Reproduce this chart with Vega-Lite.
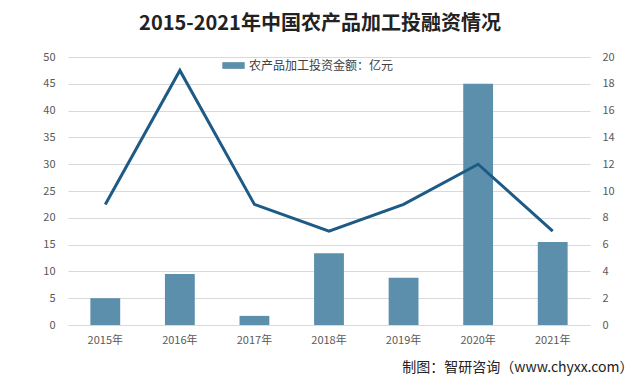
{
  "$schema": "https://vega.github.io/schema/vega-lite/v6.json",
  "autosize": "none",
  "width": 522,
  "height": 268,
  "padding": {"left": 68, "top": 57, "right": 50, "bottom": 59},
  "background": "white",
  "config": {
    "font": "Noto Sans CJK SC",
    "view": {"stroke": null},
    "axis": {"labelColor": "#595959", "labelFontSize": 11, "gridColor": "#d9d9d9", "domain": false, "ticks": false, "labelOverlap": false}
  },
  "title": {
    "text": "2015-2021年中国农产品加工投融资情况",
    "fontSize": 20,
    "fontWeight": "bold",
    "color": "#222222",
    "anchor": "middle",
    "offset": 17,
    "dx": -9
  },
  "data": {
    "values": [
      {"year": "2015年", "amount": 5.0, "count": 9},
      {"year": "2016年", "amount": 9.5, "count": 19},
      {"year": "2017年", "amount": 1.7, "count": 9},
      {"year": "2018年", "amount": 13.4, "count": 7},
      {"year": "2019年", "amount": 8.8, "count": 9},
      {"year": "2020年", "amount": 45.0, "count": 12},
      {"year": "2021年", "amount": 15.5, "count": 7}
    ]
  },
  "encoding": {
    "x": {
      "field": "year",
      "type": "nominal",
      "sort": null,
      "scale": {"paddingInner": 0.6, "paddingOuter": 0.3},
      "axis": {
        "labelAngle": 0,
        "labelPadding": 9,
        "grid": false,
        "title": "制图：智研咨询（www.chyxx.com）",
        "titleFontSize": 14,
        "titleFontWeight": "normal",
        "titleColor": "#222222",
        "titleAnchor": "end",
        "titleX": 565,
        "titleY": 42,
        "titleBaseline": "middle"
      }
    }
  },
  "layer": [
    {
      "mark": {"type": "bar"},
      "encoding": {
        "y": {
          "field": "amount",
          "type": "quantitative",
          "scale": {"domain": [0, 50]},
          "axis": {"title": null, "values": [0,5,10,15,20,25,30,35,40,45,50], "labelPadding": 13}
        },
        "color": {
          "datum": "农产品加工投资金额：亿元",
          "type": "nominal",
          "scale": {"range": ["#5b8fab"]},
          "legend": {
            "title": null,
            "orient": "none",
            "legendX": 154,
            "legendY": -3,
            "symbolType": "M-1,-0.3H1V0.3H-1Z",
            "symbolSize": 500,
            "symbolStrokeWidth": 0,
            "labelFontSize": 12,
            "labelColor": "#404040",
            "labelOffset": 4
          }
        }
      }
    },
    {
      "mark": {"type": "line", "color": "#1d5a86", "strokeWidth": 3},
      "encoding": {
        "y": {
          "field": "count",
          "type": "quantitative",
          "scale": {"domain": [0, 20]},
          "axis": {"title": null, "orient": "right", "values": [0,2,4,6,8,10,12,14,16,18,20], "grid": false, "labelPadding": 12}
        }
      }
    }
  ],
  "resolve": {"scale": {"y": "independent"}}
}
